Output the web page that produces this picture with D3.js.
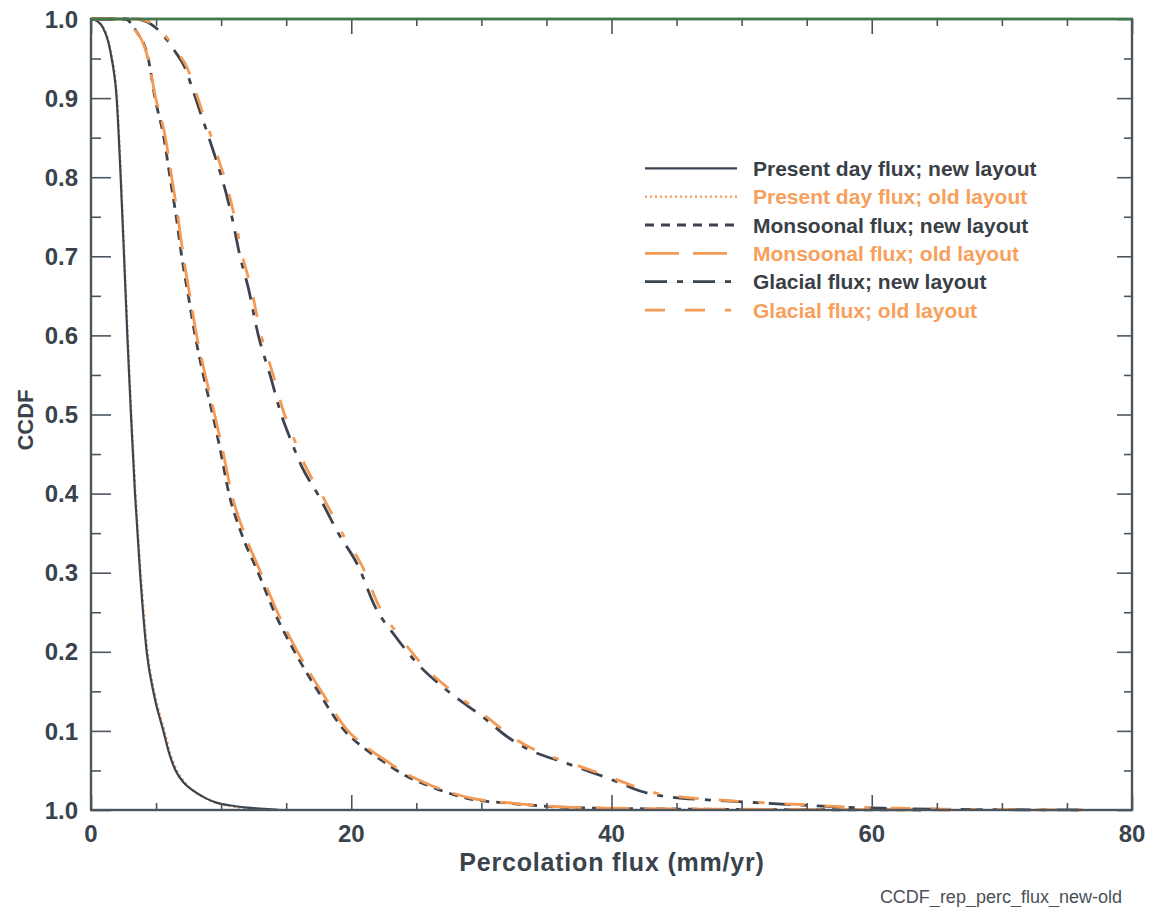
<!DOCTYPE html>
<html><head><meta charset="utf-8">
<script src="https://cdn.jsdelivr.net/npm/d3@7"></script>
<style>body{margin:0;background:#fff}svg{display:block}text{font-family:"Liberation Sans",Arial,sans-serif}</style>
</head><body>
<script>
// ---- data ----
const xTickValues = [0, 20, 40, 60, 80];
const yTickValues = [0, 0.1, 0.2, 0.3, 0.4, 0.5, 0.6, 0.7, 0.8, 0.9, 1.0];
const yTickLabels = ["1.0", "0.1", "0.2", "0.3", "0.4", "0.5", "0.6", "0.7", "0.8", "0.9", "1.0"];
const seriesNames = ["Present day flux; new layout", "Present day flux; old layout", "Monsoonal flux; new layout", "Monsoonal flux; old layout", "Glacial flux; new layout", "Glacial flux; old layout"];

const presentNew = [[0,1],[0.5,0.997],[0.92,0.989],[1.33,0.971],[1.59,0.95],[1.97,0.9],[2.28,0.8],[2.54,0.7],[2.79,0.6],[3.07,0.5],[3.38,0.4],[3.77,0.3],[4.28,0.2],[4.85,0.145],[5.56,0.1],[6.0,0.072],[6.5,0.05],[7.1,0.035],[7.8,0.025],[8.8,0.015],[9.7,0.009],[10.6,0.006],[12,0.003],[13.6,0.0012],[14.5,0]];
const presentOld = [[0,1],[0.55,0.997],[0.96,0.989],[1.37,0.971],[1.63,0.95],[2.01,0.9],[2.31,0.8],[2.57,0.7],[2.83,0.6],[3.11,0.5],[3.43,0.4],[3.83,0.3],[4.35,0.2],[4.93,0.145],[5.65,0.1],[6.1,0.072],[6.6,0.05],[7.2,0.035],[7.9,0.024],[8.9,0.014],[9.8,0.008],[10.7,0.005],[11.8,0.002],[13.0,0.0008],[13.8,0]];
const monsoonNew = [[0,1],[2.6,1.0],[3.5,0.984],[4.4,0.95],[4.92,0.9],[5.6,0.85],[6.07,0.8],[6.55,0.75],[6.97,0.7],[7.48,0.65],[8.0,0.6],[8.63,0.55],[9.35,0.5],[10.0,0.45],[10.6,0.4],[11.55,0.35],[12.85,0.3],[14.1,0.25],[15.65,0.2],[17.45,0.15],[19.5,0.1],[21.0,0.078],[22.4,0.062],[24.0,0.045],[26.06,0.03],[28.9,0.0148],[32.2,0.0085],[36.3,0.0034],[40.1,0.002],[45,0.0012],[52,0.0006],[60,0.0002],[64,0]];
const monsoonOld = [[0,1],[2.3,1.0],[3.3,0.988],[4.3,0.955],[4.98,0.9],[5.72,0.85],[6.2,0.8],[6.68,0.75],[7.1,0.7],[7.6,0.65],[8.12,0.6],[8.78,0.55],[9.5,0.5],[10.18,0.45],[10.8,0.4],[11.78,0.35],[13.05,0.3],[14.33,0.25],[15.88,0.2],[17.7,0.15],[19.75,0.1],[21.3,0.078],[22.7,0.062],[24.3,0.045],[26.3,0.03],[29.2,0.015],[32.5,0.0085],[36.6,0.0036],[40.5,0.0022],[46,0.0013],[53,0.0007],[62,0.0003],[66,0]];
const glacialNew = [[0,1],[3.4,1.0],[5.05,0.988],[6.46,0.959],[7.23,0.938],[7.87,0.908],[8.38,0.883],[9.0,0.853],[9.66,0.82],[10.04,0.8],[10.8,0.752],[11.45,0.7],[12.09,0.66],[12.86,0.6],[13.76,0.55],[14.6,0.501],[15.3,0.47],[16.2,0.434],[17.47,0.398],[19.0,0.35],[20.55,0.308],[21.83,0.257],[23.37,0.22],[25.2,0.183],[27.3,0.152],[30.4,0.114],[31.95,0.093],[33.7,0.076],[36.56,0.059],[39.1,0.044],[40.7,0.034],[42.2,0.024],[44.7,0.016],[47.6,0.0126],[50.65,0.0097],[54.5,0.0063],[58.1,0.0034],[61.6,0.002],[64.7,0.001],[70,0.0004],[76,0]];
const glacialOld = [[0,1],[3.6,1.0],[5.2,0.988],[6.6,0.959],[7.4,0.938],[8.05,0.908],[8.55,0.883],[9.2,0.853],[9.85,0.82],[10.25,0.8],[11.0,0.752],[11.65,0.7],[12.3,0.66],[13.08,0.6],[14.0,0.55],[14.85,0.501],[15.58,0.47],[16.5,0.434],[17.75,0.398],[19.3,0.35],[20.85,0.308],[22.15,0.257],[23.7,0.22],[25.5,0.183],[27.6,0.152],[30.7,0.114],[32.3,0.093],[34.1,0.076],[36.9,0.059],[39.5,0.044],[41.1,0.034],[42.6,0.025],[45.1,0.017],[48.0,0.013],[51.0,0.0098],[55.0,0.0065],[58.6,0.0036],[62.0,0.0022],[65.5,0.0012],[71,0.0004],[77,0]];

// ---- layout ----
const W = 1151, H = 907;
const m = {left: 91, top: 19, right: 1132, bottom: 810};
const dark = "#3b4450", orange = "#f59a55";
const svg = d3.select("body").append("svg").attr("width", W).attr("height", H);
const x = d3.scaleLinear().domain([0, 80]).range([m.left, m.right]);
const y = d3.scaleLinear().domain([0, 1]).range([m.bottom, m.top]);

const styles = [
  {data: presentNew, color: dark, dash: null, w: 2.2},
  {data: presentOld, color: orange, dash: "2,3", w: 2.2},
  {data: monsoonNew, color: dark, dash: "9,7", w: 2.8},
  {data: monsoonOld, color: orange, dash: "34,14", w: 2.8},
  {data: glacialNew, color: dark, dash: "22,10,6,10", w: 2.8},
  {data: glacialOld, color: orange, dash: "20,20,20,20,6,20", w: 2.8}
];

const line = d3.line().x(d => x(d[0])).y(d => y(d[1])).curve(d3.curveMonotoneX);
const g = svg.append("g");
[1, 0, 2, 3, 4, 5].forEach(i => {
  const s = styles[i];
  g.append("path").datum(s.data).attr("d", line).attr("fill", "none")
    .attr("stroke", s.color).attr("stroke-width", s.w)
    .attr("stroke-dasharray", s.dash).attr("stroke-linejoin", "round");
});

// ---- axes (ticks inside) ----
const axisColor = "#4b555e";
const yMinor = d3.range(0.05, 1, 0.1);
const xMinor = d3.range(5, 80, 5).filter(v => v % 20 !== 0);
function tickStyle(sel){ sel.select(".domain").remove(); sel.selectAll("line").attr("stroke", axisColor).attr("stroke-width", 1.6); sel.selectAll("text").remove(); }
svg.append("g").attr("transform", `translate(${m.left},0)`).call(d3.axisRight(y).tickValues(yTickValues).tickSize(20)).call(tickStyle);
svg.append("g").attr("transform", `translate(${m.left},0)`).call(d3.axisRight(y).tickValues(yMinor).tickSize(10)).call(tickStyle);
svg.append("g").attr("transform", `translate(${m.right},0)`).call(d3.axisLeft(y).tickValues(yTickValues).tickSize(15)).call(tickStyle);
svg.append("g").attr("transform", `translate(${m.right},0)`).call(d3.axisLeft(y).tickValues(yMinor).tickSize(8)).call(tickStyle);
svg.append("g").attr("transform", `translate(0,${m.bottom})`).call(d3.axisTop(x).tickValues(xTickValues).tickSize(15)).call(tickStyle);
svg.append("g").attr("transform", `translate(0,${m.bottom})`).call(d3.axisTop(x).tickValues(xMinor).tickSize(7)).call(tickStyle);
svg.append("g").attr("transform", `translate(0,${m.top})`).call(d3.axisBottom(x).tickValues(xTickValues).tickSize(15)).call(tickStyle);
svg.append("g").attr("transform", `translate(0,${m.top})`).call(d3.axisBottom(x).tickValues(xMinor).tickSize(7)).call(tickStyle);

// frame
svg.append("rect").attr("x", m.left).attr("y", m.top).attr("width", m.right - m.left).attr("height", m.bottom - m.top)
  .attr("fill", "none").attr("stroke", axisColor).attr("stroke-width", 2.4);
svg.append("line").attr("x1", m.left).attr("x2", m.right).attr("y1", m.top).attr("y2", m.top).attr("stroke", "#3f7a4c").attr("stroke-width", 2.4);

// tick labels
const labelColor = "#3a434c";
svg.append("g").selectAll("text").data(yTickValues).join("text")
  .attr("x", 78).attr("y", d => y(d)).attr("dy", "0.36em").attr("text-anchor", "end")
  .attr("font-size", 24).attr("font-weight", "bold").attr("fill", labelColor)
  .text((d, i) => yTickLabels[i]);
svg.append("g").selectAll("text").data(xTickValues).join("text")
  .attr("x", d => x(d)).attr("y", 842).attr("text-anchor", "middle")
  .attr("font-size", 24).attr("font-weight", "bold").attr("fill", labelColor)
  .text(d => d);

// axis titles
svg.append("text").attr("x", 612).attr("y", 871).attr("text-anchor", "middle")
  .attr("font-size", 25).attr("font-weight", "bold").attr("letter-spacing", 0.8).attr("fill", labelColor).text("Percolation flux (mm/yr)");
svg.append("text").attr("transform", "translate(33,420) rotate(-90)").attr("text-anchor", "middle")
  .attr("font-size", 22).attr("font-weight", "bold").attr("fill", labelColor).text("CCDF");

// footnote
svg.append("text").attr("x", 1122).attr("y", 903).attr("text-anchor", "end")
  .attr("font-size", 18).attr("fill", "#4a5058").text("CCDF_rep_perc_flux_new-old");

// legend
const legY0 = 168.3, legDy = 28.35;
const leg = svg.append("g");
styles.forEach((s, i) => {
  const yy = legY0 + i * legDy;
  leg.append("line").attr("x1", 645).attr("x2", 737).attr("y1", yy).attr("y2", yy)
    .attr("stroke", s.color).attr("stroke-width", s.w).attr("stroke-dasharray", s.dash);
  leg.append("text").attr("x", 753).attr("y", yy).attr("dy", "0.36em")
    .attr("font-size", 21).attr("font-weight", "bold")
    .attr("fill", i % 2 === 0 ? "#3a3f47" : "#f7a05c").text(seriesNames[i]);
});
</script>
</body></html>
